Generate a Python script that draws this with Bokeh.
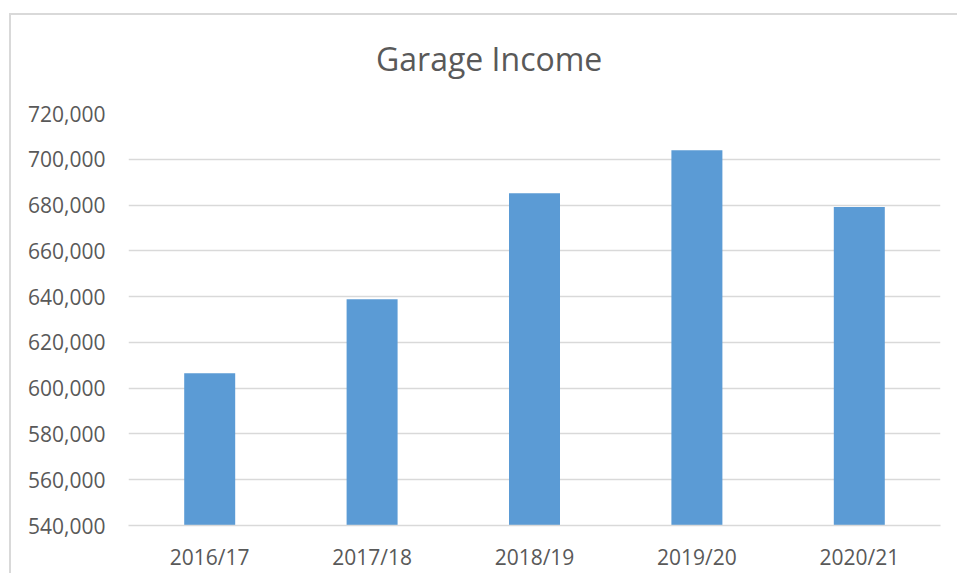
from bokeh.plotting import figure
from bokeh.models import NumeralTickFormatter, SingleIntervalTicker, Range1d, FactorRange, Div
from bokeh.layouts import column
from bokeh.embed import file_html
from bokeh.resources import INLINE

years = ["2016/17", "2017/18", "2018/19", "2019/20", "2020/21"]
income = [606500, 638800, 685200, 703900, 679100]
y_min, y_max, y_step = 540000, 720000, 20000
title_text = "Garage Income"

FONT = "Open Sans"
TXT = "#595959"
GRID = "#D9D9D9"

title = Div(text=title_text, width=946, height=70,
            styles={"font-family": "'Open Sans'", "font-size": "32px", "color": TXT,
                    "line-height": "32px", "padding-left": "360px", "padding-top": "23px",
                    "white-space": "nowrap", "box-sizing": "border-box"})

p = figure(x_range=FactorRange(*years), y_range=Range1d(y_min, y_max),
           width=946, height=478, output_backend="svg", toolbar_location=None,
           min_border_left=117, min_border_right=17, min_border_top=18, min_border_bottom=46)

p.vbar(x=years, top=income, bottom=y_min, width=0.314, fill_color="#5B9BD5", line_color=None)

p.outline_line_color = None
p.xgrid.grid_line_color = None
p.ygrid.grid_line_color = GRID
p.ygrid.grid_line_width = 1.5
p.yaxis.ticker = SingleIntervalTicker(interval=y_step)
p.yaxis.formatter = NumeralTickFormatter(format="0,0")

for ax in (p.xaxis[0], p.yaxis[0]):
    ax.major_label_text_font = FONT
    ax.major_label_text_font_size = "21px"
    ax.major_label_text_color = TXT
    ax.major_tick_line_color = None
    ax.minor_tick_line_color = None
    ax.major_tick_out = 0
    ax.major_tick_in = 0
p.yaxis.axis_line_color = None
p.yaxis.major_label_standoff = 19
p.xaxis.axis_line_color = GRID
p.xaxis.axis_line_width = 1.5
p.xaxis.major_label_standoff = 17

layout = column(title, p, spacing=0)
layout.styles = {"margin-left": "9px", "margin-top": "13px",
                 "border-left": "2px solid #D9D9D9", "border-top": "2px solid #D9D9D9"}

open("out.html", "w").write(file_html(layout, INLINE))
